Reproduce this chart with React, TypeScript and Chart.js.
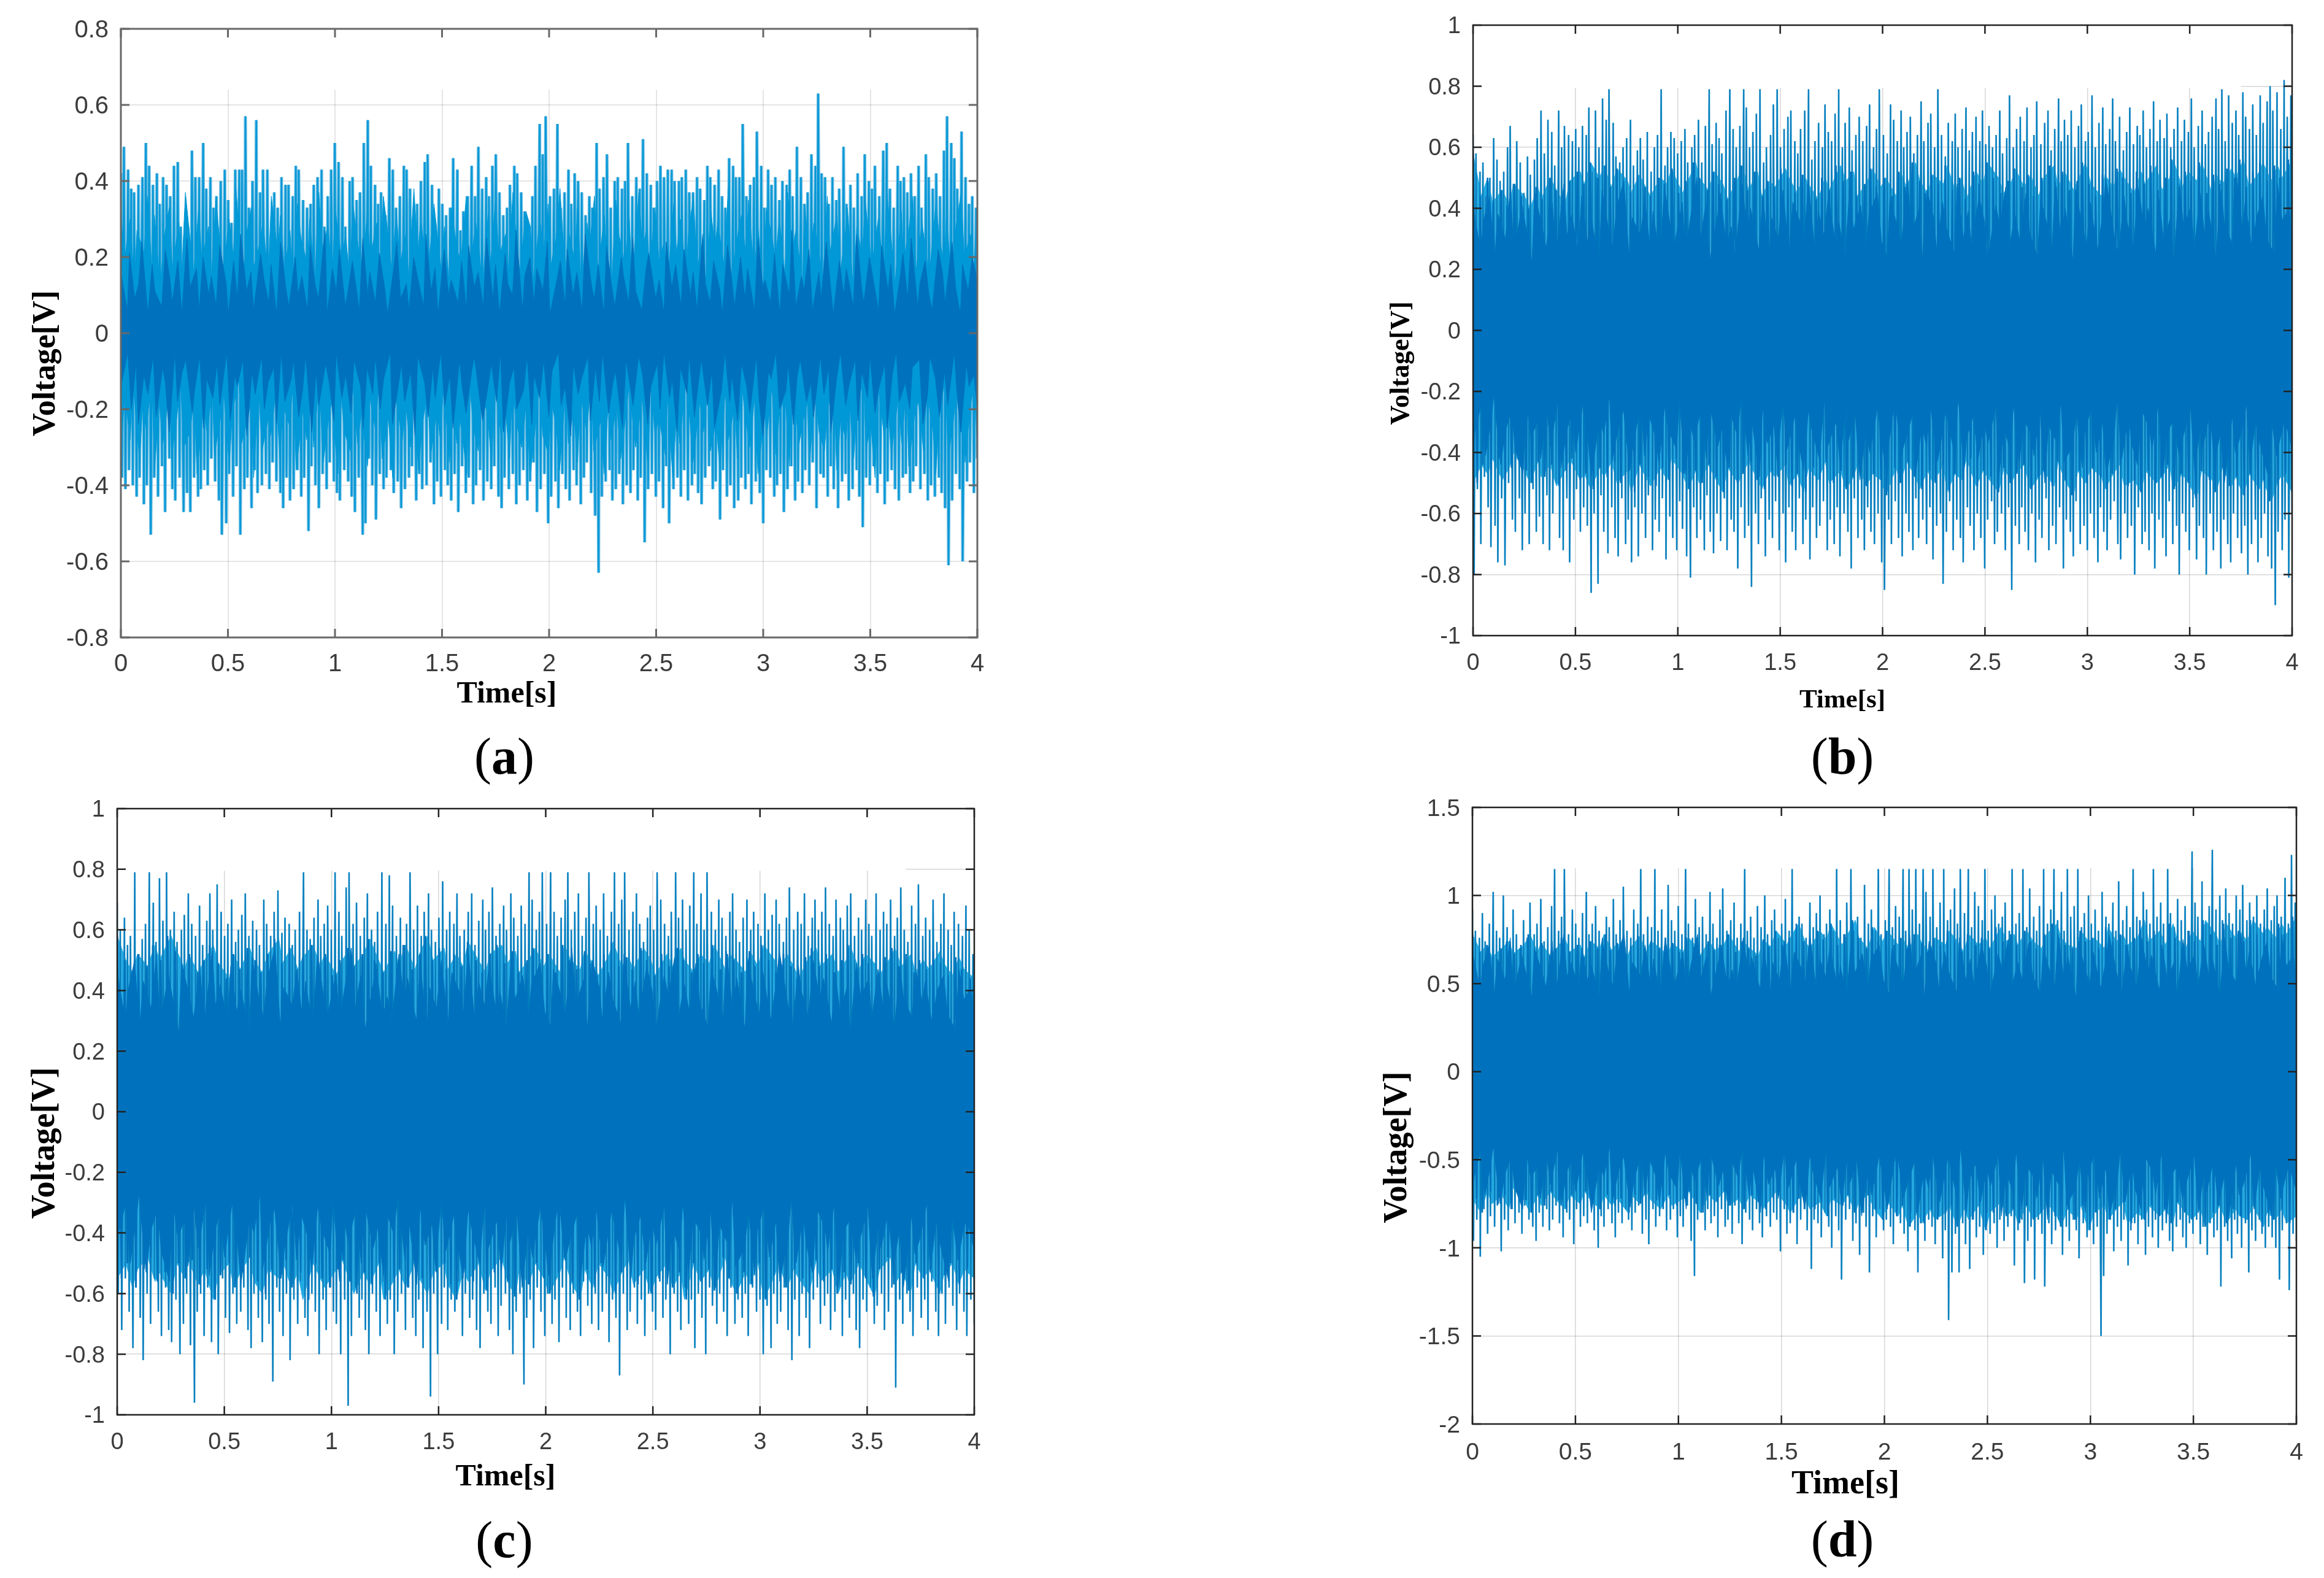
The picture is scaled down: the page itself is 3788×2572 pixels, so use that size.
import React, { useEffect, useRef } from "react";
import { Chart, registerables } from "chart.js";

Chart.register(...registerables);

const timeTicks = [0, 0.5, 1, 1.5, 2, 2.5, 3, 3.5, 4];
// Irregular gaps between successive extrema of the noisy trace
const gaps = [1.3,.6,1.1,.8,1.5,.5,1.2,.9,.7,1.4,1,.6,1.6,.8,1.1,.5,1.3,.9,1.2,.7,1.5,.6,.9];

// Panel (a)
const aTop = [.42,.49,.43,.38,.37,.39,.41,.50,.44,.39,.42,.34,.41,.39,.36,.44,.45,.28,.25,.28,
.48,.41,.41,.50,.38,.41,.33,.36,.40,.43,.35,.29,.43,.43,.43,.57,.33,.40,.56,.37,
.43,.43,.23,.37,.33,.41,.39,.39,.36,.44,.43,.35,.33,.34,.39,.41,.43,.28,.36,.43,
.50,.45,.41,.28,.40,.41,.35,.37,.50,.56,.44,.39,.34,.37,.31,.46,.43,.33,.36,.44,
.43,.38,.30,.34,.40,.45,.47,.39,.29,.38,.34,.31,.33,.46,.43,.27,.32,.36,.44,.36,
.49,.38,.41,.36,.44,.47,.37,.31,.33,.39,.44,.42,.37,.32,.27,.36,.44,.55,.47,.57,
.36,.38,.55,.33,.37,.43,.34,.42,.40,.37,.31,.36,.33,.50,.38,.41,.47,.33,.40,.41,
.38,.40,.50,.36,.41,.38,.51,.42,.39,.33,.40,.44,.41,.43,.43,.40,.40,.41,.43,.37,
.37,.41,.38,.35,.44,.41,.39,.43,.36,.33,.46,.44,.41,.41,.55,.36,.39,.41,.53,.44,
.33,.43,.39,.41,.35,.40,.39,.43,.36,.49,.41,.34,.37,.47,.44,.63,.42,.41,.34,.41,
.35,.38,.49,.34,.39,.33,.42,.36,.47,.40,.38,.44,.36,.48,.50,.38,.33,.44,.40,.41,
.37,.42,.36,.44,.33,.47,.41,.38,.42,.36,.48,.57,.50,.46,.38,.53,.41,.34,.36,.33];
const aBot = [-.38,-.41,-.36,-.40,-.43,-.38,-.45,-.40,-.53,-.38,-.43,-.35,-.47,-.33,-.41,-.44,-.38,-.47,-.42,-.47,
-.38,-.43,-.41,-.36,-.40,-.33,-.39,-.44,-.53,-.50,-.37,-.43,-.35,-.53,-.41,-.38,-.46,-.36,-.42,-.40,
-.37,-.41,-.34,-.39,-.42,-.46,-.38,-.44,-.41,-.36,-.43,-.38,-.52,-.35,-.40,-.46,-.37,-.41,-.34,-.39,
-.42,-.44,-.36,-.39,-.43,-.47,-.38,-.53,-.50,-.33,-.40,-.49,-.37,-.41,-.38,-.36,-.42,-.39,-.46,-.41,
-.38,-.35,-.44,-.37,-.41,-.40,-.34,-.45,-.39,-.43,-.36,-.40,-.44,-.37,-.47,-.35,-.42,-.38,-.45,-.40,
-.36,-.44,-.39,-.41,-.35,-.43,-.46,-.38,-.41,-.37,-.45,-.40,-.36,-.44,-.39,-.34,-.47,-.41,-.37,-.50,
-.43,-.39,-.46,-.37,-.41,-.44,-.36,-.40,-.45,-.38,-.34,-.42,-.48,-.63,-.43,-.39,-.36,-.44,-.41,-.37,
-.45,-.40,-.42,-.36,-.44,-.38,-.55,-.41,-.37,-.43,-.39,-.46,-.35,-.50,-.41,-.38,-.43,-.36,-.44,-.40,
-.37,-.42,-.45,-.38,-.35,-.41,-.39,-.49,-.36,-.43,-.40,-.46,-.44,-.38,-.41,-.37,-.45,-.39,-.42,-.50,
-.36,-.38,-.43,-.40,-.37,-.47,-.41,-.35,-.44,-.39,-.42,-.36,-.40,-.34,-.46,-.37,-.38,-.43,-.35,-.41,
-.46,-.39,-.37,-.44,-.41,-.36,-.43,-.51,-.38,-.40,-.35,-.42,-.37,-.45,-.39,-.36,-.41,-.44,-.38,-.37,
-.42,-.39,-.35,-.41,-.37,-.44,-.40,-.43,-.38,-.42,-.46,-.61,-.44,-.37,-.41,-.60,-.39,-.34,-.42,-.33];
const aMidTop = [.34,.18,.30,.13,.27,.21,.36,.15,.31,.12,.25,.33,.17,.29,.14,.37,.22,.16,.32,.19,.28,.12,.35,.24,.15,.30,.20,.38,.13,.26,.33,.17,.23,.29,.14,.36,.21,.31,.16,.27,
.12,.34,.25,.18,.30,.14,.37,.22,.28,.15,.33,.19,.26,.13,.35,.23,.17,.31,.20,.29,.12,.36,.24,.16,.32,.18,.27,.14,.38,.21,.30,.15,.25,.34,.17,.28,.13,.33,.22,.19,
.36,.15,.29,.24,.12,.31,.18,.35,.20,.26,.14,.37,.23,.16,.32,.28,.13,.30,.21,.34,.17,.25,.38,.15,.27,.19,.33,.12,.29,.23,.36,.16,.31,.20,.14,.35,.26,.18,.30,.13,
.37,.22,.28,.16,.33,.19,.24,.12,.34,.21,.30,.15,.27,.36,.17,.25,.13,.32,.23,.29,.18,.38,.14,.26,.31,.20,.35,.16,.28,.12,.33,.24,.19,.30,.15,.37,.22,.27,.13,.34,
.18,.29,.25,.14,.36,.21,.31,.16,.26,.33,.12,.28,.20,.35,.17,.23,.30,.15,.38,.24,.13,.32,.19,.27,.36,.16,.29,.21,.14,.34,.25,.18,.31,.12,.28,.37,.20,.26,.15,.33];
const aMidBot = [-.31,-.16,-.28,-.13,-.34,-.20,-.25,-.12,-.36,-.18,-.29,-.15,-.33,-.22,-.14,-.30,-.26,-.17,-.37,-.19,-.27,-.13,-.32,-.23,-.16,-.35,-.21,-.12,-.29,-.25,-.18,-.38,-.14,-.31,-.22,-.27,-.15,-.33,-.19,-.24,
-.13,-.36,-.20,-.28,-.16,-.30,-.12,-.34,-.23,-.18,-.37,-.15,-.26,-.31,-.14,-.29,-.21,-.35,-.17,-.25,-.13,-.33,-.22,-.38,-.16,-.28,-.19,-.30,-.12,-.36,-.24,-.15,-.32,-.20,-.27,-.14,-.34,-.18,-.29,-.23,
-.37,-.13,-.26,-.31,-.16,-.21,-.35,-.12,-.28,-.19,-.33,-.15,-.25,-.30,-.17,-.38,-.22,-.14,-.27,-.32,-.18,-.24,-.36,-.13,-.29,-.20,-.34,-.16,-.26,-.12,-.31,-.23,-.37,-.15,-.28,-.19,-.33,-.21,-.14,-.30,
-.25,-.17,-.35,-.13,-.27,-.22,-.32,-.16,-.38,-.20,-.29,-.12,-.24,-.34,-.18,-.26,-.14,-.31,-.23,-.36,-.15,-.28,-.19,-.33,-.13,-.25,-.30,-.17,-.37,-.21,-.27,-.14,-.32,-.22,-.16,-.35,-.12,-.29,-.24,-.18,
-.34,-.15,-.26,-.31,-.20,-.13,-.36,-.23,-.28,-.16,-.33,-.19,-.12,-.30,-.25,-.38,-.14,-.27,-.21,-.32,-.17,-.29,-.13,-.35,-.22,-.18,-.31,-.15,-.26,-.37,-.20,-.12,-.33,-.24,-.16,-.28,-.34,-.19,-.14,-.30];
const aCoreTop = [.16,.06,.21,.09,.13,.24,.05,.18,.11,.07,.22,.14,.08,.19,.05,.25,.12,.17,.06,.20,.10,.15,.07,.23,.13,.05,.19,.09,.26,.11,.16,.06,.21,.14,.08,.18,.05,.24,.12,.07,
.20,.10,.15,.06,.23,.13,.09,.27,.05,.17,.11,.22,.07,.14,.19,.06,.25,.10,.16,.08,.21,.12,.05,.18,.24,.09,.13,.06,.20,.15,.07,.26,.11,.17,.05,.22,.10,.14,.08,.19,
.06,.23,.12,.16,.07,.25,.09,.18,.05,.21,.13,.10,.27,.06,.15,.20,.08,.17,.11,.24,.05,.14,.19,.07,.22,.10,.16,.06,.26,.12,.09,.18,.05,.23,.13,.07,.20,.15,.08,.25,
.11,.06,.17,.21,.09,.14,.05,.24,.12,.18,.07,.22,.10,.16,.06,.26,.13,.08,.19,.11,.05,.23,.15,.07,.20,.09,.17,.06,.25,.12,.14,.08,.21,.05,.18,.10,.27,.07,.15,.11,
.22,.06,.16,.09,.24,.13,.05,.19,.10,.17,.07,.26,.12,.08,.20,.14,.06,.23,.11,.18,.05,.15,.21,.09,.25,.07,.13,.19,.10,.06,.22,.16,.08,.24,.12,.05,.18,.11,.20,.14];
const aCoreBot = [-.14,-.05,-.20,-.08,-.24,-.11,-.16,-.06,-.22,-.09,-.13,-.26,-.05,-.18,-.10,-.07,-.21,-.15,-.06,-.25,-.12,-.17,-.08,-.19,-.05,-.23,-.11,-.14,-.07,-.27,-.10,-.16,-.06,-.20,-.13,-.09,-.24,-.05,-.18,-.12,
-.07,-.22,-.15,-.06,-.26,-.10,-.19,-.08,-.13,-.23,-.05,-.17,-.11,-.21,-.07,-.14,-.25,-.09,-.16,-.06,-.20,-.12,-.05,-.24,-.15,-.08,-.18,-.10,-.27,-.06,-.13,-.22,-.09,-.17,-.05,-.19,-.11,-.25,-.07,-.14,
-.21,-.10,-.06,-.16,-.23,-.12,-.08,-.18,-.05,-.26,-.13,-.09,-.20,-.15,-.06,-.24,-.11,-.17,-.07,-.22,-.10,-.05,-.19,-.14,-.27,-.08,-.16,-.12,-.06,-.23,-.09,-.18,-.05,-.21,-.13,-.10,-.25,-.07,-.15,-.19,
-.06,-.11,-.24,-.14,-.08,-.20,-.05,-.17,-.12,-.26,-.09,-.16,-.06,-.22,-.13,-.07,-.19,-.10,-.25,-.15,-.05,-.18,-.11,-.23,-.08,-.14,-.21,-.06,-.17,-.27,-.10,-.12,-.05,-.20,-.15,-.08,-.24,-.11,-.07,-.18,
-.13,-.22,-.06,-.16,-.09,-.26,-.12,-.05,-.19,-.14,-.07,-.23,-.10,-.17,-.06,-.21,-.15,-.08,-.25,-.11,-.05,-.18,-.13,-.20,-.09,-.07,-.24,-.16,-.06,-.12,-.22,-.10,-.19,-.05,-.15,-.26,-.08,-.14,-.11,-.20];

// Panel (b)
const bTop = [.64,.58,.52,.55,.44,.50,.63,.56,.49,.52,.60,.67,.48,.62,.55,.45,.57,.51,.56,.63,
.72,.58,.69,.65,.54,.72,.60,.67,.64,.62,.66,.60,.67,.64,.73,.52,.72,.60,.76,.69,
.79,.68,.57,.55,.60,.63,.69,.54,.59,.63,.56,.65,.52,.60,.64,.79,.54,.60,.65,.63,
.58,.62,.66,.55,.60,.64,.69,.55,.67,.79,.61,.68,.63,.58,.72,.79,.66,.60,.67,.79,
.73,.60,.65,.71,.79,.55,.60,.64,.74,.79,.60,.66,.70,.72,.62,.58,.66,.72,.79,.56,
.62,.68,.60,.74,.65,.62,.71,.79,.60,.68,.73,.59,.64,.70,.62,.67,.74,.60,.66,.79,
.64,.58,.74,.69,.62,.72,.60,.65,.70,.58,.64,.75,.62,.68,.71,.60,.79,.64,.57,.68,
.62,.71,.60,.66,.73,.59,.65,.70,.62,.72,.61,.67,.60,.64,.72,.58,.63,.77,.60,.66,
.70,.62,.73,.60,.64,.75,.61,.68,.72,.59,.66,.76,.62,.69,.64,.72,.60,.67,.74,.62,
.65,.77,.60,.68,.73,.61,.66,.76,.62,.70,.59,.65,.73,.61,.67,.64,.72,.60,.66,.75,
.62,.69,.63,.71,.60,.66,.73,.62,.69,.65,.76,.60,.67,.72,.61,.65,.70,.76,.66,.79,
.62,.77,.68,.72,.64,.78,.70,.66,.74,.64,.77,.68,.75,.80,.72,.78,.66,.82,.70,.77];
const bBot = [-.80,-.52,-.70,-.48,-.58,-.71,-.64,-.76,-.55,-.77,-.50,-.62,-.66,-.55,-.72,-.60,-.70,-.52,-.66,-.61,
-.70,-.54,-.72,-.60,-.50,-.68,-.72,-.55,-.76,-.62,-.52,-.66,-.58,-.64,-.86,-.60,-.83,-.54,-.66,-.73,
-.58,-.68,-.74,-.55,-.70,-.62,-.76,-.58,-.74,-.60,-.68,-.54,-.72,-.62,-.66,-.55,-.75,-.61,-.68,-.72,
-.56,-.65,-.74,-.81,-.58,-.68,-.62,-.72,-.54,-.66,-.73,-.60,-.69,-.55,-.72,-.62,-.66,-.78,-.58,-.68,
-.64,-.84,-.60,-.70,-.55,-.74,-.62,-.68,-.56,-.72,-.60,-.76,-.58,-.66,-.72,-.55,-.70,-.62,-.75,-.58,
-.68,-.64,-.56,-.72,-.62,-.70,-.58,-.74,-.60,-.66,-.78,-.55,-.68,-.62,-.72,-.58,-.66,-.70,-.60,-.76,
-.85,-.62,-.70,-.56,-.68,-.74,-.60,-.66,-.72,-.55,-.68,-.62,-.70,-.58,-.75,-.64,-.60,-.83,-.66,-.56,
-.72,-.62,-.68,-.76,-.58,-.64,-.72,-.60,-.68,-.78,-.62,-.56,-.70,-.66,-.60,-.72,-.58,-.85,-.64,-.70,
-.58,-.66,-.72,-.60,-.76,-.62,-.68,-.55,-.72,-.64,-.70,-.58,-.78,-.62,-.66,-.74,-.56,-.70,-.64,-.72,
-.60,-.68,-.76,-.58,-.66,-.72,-.62,-.56,-.70,-.75,-.60,-.68,-.64,-.80,-.58,-.70,-.66,-.72,-.60,-.78,
-.62,-.68,-.74,-.56,-.70,-.64,-.80,-.60,-.66,-.72,-.58,-.75,-.64,-.68,-.80,-.60,-.72,-.66,-.78,-.62,
-.70,-.76,-.60,-.68,-.73,-.64,-.80,-.70,-.62,-.76,-.68,-.60,-.74,-.78,-.90,-.66,-.72,-.62,-.81,-.60];
const bMidTop = [.58,.44,.50,.42,.46,.41,.48,.44,.40,.47,.43,.50,.46,.41,.49,.52,.48,.55,.50,.54,
.47,.53,.49,.45,.51,.47,.44,.50,.48,.53,.45,.49,.55,.50,.46,.52,.48,.43,.50,.54,
.46,.52,.44,.49,.47,.53,.50,.45,.51,.48,.43,.50,.46,.54,.49,.52,.44,.48,.53,.47,
.50,.44,.52,.47,.55,.49,.45,.51,.48,.54,.46,.50,.43,.52,.48,.55,.50,.45,.49,.53,
.47,.51,.44,.50,.54,.47,.52,.46,.49,.55,.48,.44,.51,.47,.53,.50,.45,.52,.48,.54,
.46,.50,.56,.47,.52,.49,.55,.45,.51,.48,.53,.50,.56,.47,.52,.55,.49,.54,.50,.56];
const bMidBot = [-.50,-.44,-.47,-.42,-.49,-.45,-.40,-.46,-.50,-.43,-.48,-.44,-.51,-.46,-.42,-.49,-.47,-.52,-.45,-.48,
-.43,-.50,-.46,-.53,-.44,-.48,-.51,-.45,-.49,-.42,-.47,-.52,-.46,-.50,-.44,-.48,-.53,-.45,-.50,-.47,
-.43,-.49,-.52,-.46,-.48,-.44,-.51,-.47,-.53,-.45,-.49,-.43,-.50,-.46,-.52,-.48,-.44,-.51,-.47,-.49,
-.54,-.45,-.50,-.43,-.48,-.52,-.46,-.50,-.44,-.53,-.47,-.49,-.42,-.51,-.46,-.48,-.53,-.45,-.50,-.47,
-.44,-.52,-.48,-.46,-.51,-.43,-.49,-.54,-.46,-.50,-.45,-.48,-.52,-.47,-.44,-.51,-.49,-.53,-.46,-.50,
-.48,-.44,-.52,-.47,-.50,-.55,-.46,-.49,-.53,-.45,-.51,-.48,-.54,-.47,-.52,-.49,-.56,-.50,-.47,-.53];
const bCoreTop = [.40,.26,.36,.44,.23,.38,.30,.47,.25,.41,.33,.22,.45,.35,.27,.42,.24,.48,.31,.38,.25,.44,.29,.36,.22,.46,.34,.27,.40,.49,.24,.37,.31,.43,.26,.39,.23,.47,.33,.28,
.42,.25,.36,.50,.29,.41,.23,.38,.45,.27,.34,.24,.48,.32,.40,.26,.44,.22,.37,.30,.46,.25,.42,.35,.28,.49,.24,.39,.31,.44,.27,.36,.23,.47,.33,.41,.26,.38,.45,.29,
.24,.43,.35,.28,.50,.31,.40,.23,.46,.37,.26,.42,.33,.25,.48,.30,.39,.27,.44,.36,.22,.41,.34,.47,.25,.38,.29,.45,.32,.24,.43,.37,.27,.49,.30,.40,.23,.46,.35,.28,
.42,.26,.38,.50,.31,.24,.44,.36,.27,.47,.33,.40,.25,.43,.29,.37,.22,.48,.34,.41,.26,.45,.30,.39,.24,.46,.35,.28,.50,.33,.42,.27,.37,.44,.30,.25,.48,.36,.40,.31];
const bCoreBot = [-.36,-.24,-.41,-.29,-.21,-.44,-.33,-.26,-.39,-.47,-.23,-.35,-.30,-.42,-.25,-.38,-.22,-.45,-.32,-.27,-.40,-.24,-.36,-.48,-.29,-.34,-.21,-.43,-.31,-.26,-.46,-.37,-.23,-.41,-.28,-.35,-.44,-.25,-.33,-.39,
-.22,-.47,-.30,-.36,-.26,-.42,-.24,-.38,-.32,-.45,-.27,-.34,-.21,-.41,-.29,-.48,-.25,-.37,-.31,-.43,-.23,-.39,-.28,-.35,-.46,-.26,-.33,-.42,-.22,-.38,-.30,-.44,-.24,-.36,-.27,-.49,-.32,-.40,-.25,-.34,
-.45,-.29,-.23,-.41,-.36,-.27,-.47,-.31,-.38,-.24,-.43,-.33,-.26,-.40,-.22,-.46,-.35,-.28,-.42,-.30,-.37,-.25,-.48,-.32,-.39,-.24,-.44,-.29,-.34,-.41,-.26,-.50,-.31,-.36,-.23,-.43,-.38,-.27,-.45,-.33,
-.25,-.40,-.30,-.47,-.35,-.22,-.42,-.28,-.37,-.44,-.26,-.32,-.39,-.24,-.48,-.34,-.29,-.41,-.36,-.25,-.46,-.31,-.38,-.27,-.43,-.33,-.50,-.28,-.40,-.35,-.24,-.44,-.30,-.37,-.47,-.26,-.41,-.34,-.29,-.39];

// Panel (c)
const cTop = [.69,.60,.64,.55,.58,.79,.52,.57,.62,.79,.69,.56,.77,.63,.79,.60,.66,.56,.60,.65,
.72,.62,.58,.68,.55,.63,.72,.60,.75,.66,.58,.62,.70,.56,.60,.65,.72,.58,.63,.60,
.55,.70,.62,.58,.66,.73,.59,.64,.62,.55,.60,.66,.79,.60,.57,.64,.70,.58,.62,.68,
.60,.79,.66,.58,.74,.79,.62,.69,.58,.64,.72,.60,.56,.66,.79,.62,.78,.68,.58,.64,
.55,.62,.79,.60,.68,.58,.66,.72,.60,.56,.64,.76,.60,.66,.62,.72,.58,.60,.66,.72,
.55,.63,.70,.60,.66,.74,.58,.62,.68,.60,.72,.64,.58,.68,.62,.79,.70,.60,.66,.79,
.62,.79,.66,.58,.64,.70,.79,.60,.66,.72,.58,.64,.79,.62,.68,.60,.72,.58,.66,.79,
.62,.70,.79,.60,.66,.72,.62,.56,.64,.68,.60,.79,.70,.62,.58,.66,.79,.64,.70,.60,
.68,.79,.62,.72,.60,.79,.66,.60,.70,.64,.58,.66,.72,.60,.56,.64,.70,.60,.66,.62,
.58,.72,.60,.65,.70,.62,.56,.64,.74,.60,.66,.62,.72,.58,.64,.70,.60,.66,.74,.62,
.58,.70,.64,.60,.68,.72,.58,.64,.60,.70,.62,.58,.72,.60,.66,.62,.70,.58,.64,.74,
.60,.56,.68,.62,.75,.58,.64,.60,.70,.56,.62,.72,.60,.55,.66,.62,.58,.68,.60,.52];
const cBot = [-.60,-.72,-.55,-.66,-.78,-.58,-.68,-.82,-.60,-.70,-.55,-.66,-.74,-.58,-.72,-.76,-.62,-.80,-.70,-.60,
-.77,-.96,-.66,-.60,-.74,-.58,-.76,-.62,-.80,-.55,-.68,-.73,-.60,-.70,-.66,-.58,-.72,-.78,-.60,-.68,
-.76,-.62,-.70,-.89,-.58,-.66,-.74,-.60,-.82,-.62,-.70,-.56,-.68,-.74,-.60,-.66,-.80,-.62,-.72,-.58,
-.66,-.70,-.80,-.62,-.97,-.74,-.58,-.68,-.62,-.72,-.80,-.60,-.66,-.74,-.56,-.70,-.62,-.80,-.66,-.60,
-.72,-.58,-.68,-.74,-.62,-.78,-.66,-.94,-.60,-.80,-.70,-.58,-.72,-.62,-.66,-.56,-.74,-.60,-.68,-.62,
-.72,-.78,-.60,-.66,-.70,-.58,-.74,-.64,-.60,-.72,-.80,-.66,-.60,-.90,-.68,-.62,-.78,-.58,-.66,-.74,
-.60,-.70,-.62,-.76,-.58,-.68,-.72,-.60,-.66,-.74,-.56,-.64,-.70,-.60,-.72,-.66,-.60,-.76,-.62,-.68,
-.87,-.60,-.72,-.66,-.58,-.70,-.62,-.74,-.60,-.66,-.72,-.56,-.68,-.62,-.80,-.60,-.66,-.72,-.58,-.70,
-.62,-.78,-.60,-.68,-.80,-.58,-.64,-.70,-.60,-.66,-.74,-.58,-.70,-.62,-.68,-.60,-.74,-.58,-.66,-.62,
-.80,-.64,-.78,-.60,-.70,-.66,-.58,-.72,-.82,-.62,-.74,-.60,-.68,-.78,-.62,-.58,-.70,-.64,-.60,-.72,
-.66,-.58,-.74,-.62,-.68,-.60,-.72,-.78,-.62,-.66,-.58,-.70,-.64,-.60,-.72,-.66,-.58,-.91,-.62,-.70,
-.60,-.66,-.74,-.58,-.68,-.62,-.72,-.56,-.66,-.74,-.60,-.70,-.58,-.64,-.72,-.60,-.66,-.74,-.62,-.70];
const cMidTop = [.58,.50,.46,.52,.48,.55,.50,.58,.53,.47,.52,.46,.50,.55,.49,.44,.52,.47,.54,.50,
.46,.52,.57,.49,.54,.47,.51,.55,.48,.52,.45,.50,.54,.48,.52,.57,.50,.46,.53,.49,
.55,.47,.52,.58,.50,.54,.47,.52,.48,.56,.50,.46,.52,.55,.49,.53,.46,.50,.54,.48,
.52,.46,.55,.50,.47,.53,.49,.45,.52,.56,.48,.51,.47,.54,.50,.45,.52,.48,.54,.50,
.46,.52,.49,.55,.47,.52,.50,.46,.53,.48,.55,.50,.46,.52,.48,.44,.51,.54,.48,.52,
.46,.50,.55,.47,.52,.49,.45,.51,.54,.48,.52,.46,.50,.47,.53,.49,.45,.51,.47,.44];
const cMidBot = [-.55,-.50,-.58,-.52,-.48,-.56,-.53,-.60,-.50,-.55,-.49,-.57,-.52,-.62,-.54,-.50,-.58,-.53,-.48,-.56,
-.60,-.52,-.55,-.49,-.58,-.53,-.62,-.50,-.55,-.58,-.52,-.49,-.56,-.60,-.53,-.57,-.50,-.62,-.55,-.52,
-.58,-.49,-.55,-.60,-.53,-.50,-.57,-.62,-.52,-.56,-.50,-.59,-.53,-.48,-.56,-.61,-.52,-.57,-.50,-.55,
-.60,-.53,-.48,-.56,-.62,-.52,-.58,-.50,-.55,-.60,-.53,-.49,-.57,-.52,-.60,-.55,-.50,-.58,-.53,-.62,
-.50,-.56,-.52,-.59,-.48,-.55,-.60,-.53,-.57,-.50,-.62,-.54,-.50,-.58,-.52,-.55,-.60,-.49,-.56,-.52,
-.60,-.53,-.57,-.50,-.55,-.61,-.52,-.48,-.57,-.53,-.59,-.50,-.55,-.52,-.60,-.54,-.50,-.57,-.52,-.55];
const cCoreTop = [.46,.30,.40,.50,.27,.43,.34,.52,.29,.45,.37,.26,.49,.39,.31,.47,.28,.53,.35,.42,.29,.48,.33,.40,.26,.51,.38,.31,.44,.54,.28,.41,.35,.47,.30,.43,.27,.52,.37,.32,
.46,.29,.40,.54,.33,.45,.27,.42,.49,.31,.38,.28,.52,.36,.44,.30,.48,.26,.41,.34,.50,.29,.46,.39,.32,.53,.28,.43,.35,.48,.31,.40,.27,.51,.37,.45,.30,.42,.49,.33,
.28,.47,.39,.32,.54,.35,.44,.27,.50,.41,.30,.46,.37,.29,.52,.34,.43,.31,.48,.40,.26,.45,.38,.51,.29,.42,.33,.49,.36,.28,.47,.41,.31,.53,.34,.44,.27,.50,.39,.32,
.46,.30,.42,.53,.35,.28,.48,.40,.31,.50,.37,.44,.29,.46,.33,.41,.26,.49,.38,.44,.30,.47,.34,.42,.28,.48,.38,.31,.46,.36,.43,.29,.40,.45,.32,.27,.47,.37,.41,.30];
const cCoreBot = [-.42,-.30,-.50,-.35,-.27,-.53,-.39,-.32,-.46,-.56,-.29,-.41,-.36,-.51,-.31,-.45,-.28,-.54,-.38,-.33,-.48,-.30,-.43,-.57,-.35,-.40,-.27,-.52,-.37,-.32,-.55,-.44,-.29,-.49,-.34,-.42,-.53,-.31,-.39,-.47,
-.28,-.56,-.36,-.43,-.32,-.50,-.30,-.45,-.38,-.54,-.33,-.40,-.27,-.49,-.35,-.57,-.31,-.44,-.37,-.51,-.29,-.46,-.34,-.41,-.55,-.32,-.39,-.50,-.28,-.45,-.36,-.53,-.30,-.43,-.33,-.58,-.38,-.48,-.31,-.40,
-.54,-.35,-.29,-.49,-.43,-.33,-.56,-.37,-.45,-.30,-.51,-.39,-.32,-.48,-.28,-.55,-.42,-.34,-.50,-.36,-.44,-.31,-.57,-.38,-.46,-.30,-.53,-.35,-.40,-.49,-.32,-.58,-.37,-.43,-.29,-.51,-.45,-.33,-.54,-.39,
-.31,-.48,-.36,-.56,-.42,-.28,-.50,-.34,-.44,-.53,-.32,-.38,-.46,-.30,-.57,-.40,-.35,-.49,-.43,-.31,-.55,-.37,-.45,-.33,-.51,-.39,-.58,-.34,-.47,-.42,-.30,-.53,-.36,-.44,-.56,-.32,-.49,-.40,-.35,-.46];

// Panel (d)
const dTop = [.92,.80,.76,.90,.74,.84,1.02,.80,.76,1.00,.82,.74,.92,.78,.70,.86,.76,.96,.78,.84,
.98,.74,.82,.94,1.15,.80,.88,1.15,.78,.92,.84,.76,.90,1.02,.78,.84,.94,.80,.76,.88,
.82,.98,.78,.86,1.05,.80,.76,.92,.84,1.15,.78,.88,.82,1.15,.80,.92,.76,1.06,.86,.80,
.94,.78,1.15,.84,.76,.98,.82,.88,.78,1.02,.84,.76,.92,1.04,.80,.86,.96,.76,.84,1.15,
.80,.88,.76,.94,.82,1.00,.78,.86,.92,.76,.84,.98,.80,1.15,.78,.88,.84,.76,.96,.82,
.90,1.00,.78,.84,.92,.80,1.15,.86,.78,.96,1.15,.80,.88,.76,1.06,.84,.92,.80,1.15,.78,
.86,1.15,.82,.94,.88,1.15,.80,1.15,.92,1.15,.84,1.15,1.02,.88,1.15,.82,.96,1.15,.86,.92,
1.04,.84,1.15,.90,1.15,.82,1.02,.94,.86,1.15,.80,.92,1.00,.84,.88,.96,.80,1.15,.84,.90,
1.15,.82,1.04,.88,.80,.94,1.15,.84,.92,1.15,.86,1.02,.80,1.15,.88,.94,1.15,.82,.90,1.00,
.84,.92,.80,1.02,.88,.84,.96,.80,1.08,.86,.94,.82,1.15,.88,.80,1.02,.92,.84,1.15,.88,
.96,.84,1.15,.90,.82,.98,.86,.94,.80,1.25,.96,.88,1.08,.84,.94,1.26,.92,1.00,.86,1.04,
.90,.84,1.00,.92,1.06,.86,.96,.88,1.00,.84,.92,1.04,.86,.94,1.00,.88,1.10,.84,1.23,.96];
const dBot = [-.96,-.84,-1.05,-.78,-.92,-.82,-.88,-.76,-1.02,-.84,-.90,-.78,-.86,-.80,-.92,-.76,-.84,-.88,-.96,-.80,
-.88,-.78,-.90,-.84,-.76,-.86,-.94,-.80,-.84,-.98,-.78,-.88,-.82,-.86,-.76,-.90,-1.00,-.82,-.88,-.78,
-.86,-.94,-.80,-.86,-.78,-.84,-.90,-.80,-.76,-.92,-.84,-.98,-.78,-.88,-.82,-.76,-.90,-.84,-.78,-.94,
-.82,-.88,-.76,-.96,-1.16,-.84,-.80,-.90,-.78,-.86,-.82,-.94,-.78,-.88,-.84,-.92,-.76,-.86,-.98,-.80,
-.84,-.90,-.78,-.86,-.94,-.82,-.88,-.80,-.84,-1.02,-.78,-.92,-.86,-.80,-.98,-.84,-.78,-.90,-1.12,-.84,
-.86,-.94,-.80,-.88,-1.00,-.82,-.90,-1.18,-.84,-.78,-.96,-.86,-1.04,-.80,-.88,-1.14,-.82,-.94,-.78,-.90,
-.84,-.88,-.98,-.82,-.86,-.92,-1.02,-.80,-.90,-1.14,-.86,-.96,-.84,-.88,-.98,-.82,-1.06,-.90,-1.41,-1.14,
-.92,-1.14,-.86,-.98,-1.12,-.84,-.94,-.88,-1.04,-.80,-.92,-.86,-1.00,-.84,-.96,-.88,-.82,-1.10,-.90,-.84,
-1.20,-.96,-.88,-1.18,-.84,-.92,-1.22,-.86,-.98,-.90,-.84,-1.04,-.88,-.96,-.84,-.90,-1.06,-.86,-.94,-.82,
-.98,-.88,-1.50,-1.16,-.92,-.84,-1.02,-.88,-.96,-.84,-1.10,-.90,-.86,-.98,-.84,-1.04,-.88,-.94,-.84,-1.00,
-.90,-.86,-.96,-1.02,-.88,-.84,-.94,-1.00,-.86,-.92,-.84,-.98,-.88,-1.04,-.86,-.94,-.90,-1.22,-.88,-.96,
-1.06,-.84,-.92,-1.00,-.86,-1.14,-.90,-.96,-.84,-.92,-1.00,-.88,-.94,-1.00,-1.18,-.90,-.86,-1.24,-.92,-.96];
const dMidTop = [.78,.68,.72,.65,.70,.74,.67,.72,.78,.68,.73,.66,.70,.76,.68,.72,.65,.74,.70,.78,
.69,.73,.66,.71,.77,.68,.74,.70,.66,.73,.68,.76,.71,.66,.74,.69,.72,.78,.68,.74,
.70,.66,.75,.71,.80,.72,.76,.84,.74,.70,.80,.75,.84,.72,.78,.86,.76,.70,.82,.74,
.80,.72,.76,.70,.78,.73,.68,.76,.72,.80,.74,.68,.78,.72,.76,.70,.82,.74,.78,.72,
.80,.74,.70,.78,.84,.76,.72,.70,.80,.74,.76,.70,.82,.74,.78,.72,.76,.86,.74,.80,
.72,.84,.76,.70,.80,.74,.86,.78,.72,.84,.76,.80,.74,.86,.78,.82,.76,.84,.78,.88];
const dMidBot = [-.72,-.80,-.68,-.75,-.70,-.78,-.66,-.73,-.80,-.70,-.76,-.68,-.73,-.78,-.70,-.75,-.68,-.73,-.78,-.70,
-.76,-.72,-.80,-.70,-.75,-.68,-.73,-.78,-.70,-.76,-.72,-.68,-.75,-.80,-.70,-.74,-.68,-.76,-.72,-.78,
-.70,-.74,-.78,-.72,-.68,-.76,-.80,-.72,-.70,-.78,-.74,-.82,-.72,-.76,-.70,-.80,-.74,-.70,-.78,-.84,
-.74,-.82,-.76,-.88,-.80,-.86,-.78,-.84,-.80,-.76,-.88,-.78,-.84,-.76,-.90,-.80,-.74,-.82,-.78,-.86,
-.76,-.84,-.80,-.74,-.82,-.88,-.78,-.84,-.76,-.90,-.80,-.76,-.84,-.78,-.74,-.86,-.80,-.84,-.76,-.82,
-.78,-.86,-.74,-.80,-.84,-.78,-.88,-.80,-.76,-.86,-.78,-.82,-.84,-.76,-.88,-.80,-.84,-.78,-.86,-.82];
const dCoreTop = [.68,.46,.60,.72,.42,.64,.52,.76,.44,.66,.56,.42,.70,.58,.48,.74,.44,.78,.54,.62,.46,.70,.52,.60,.42,.75,.57,.48,.66,.78,.44,.62,.54,.72,.47,.64,.42,.76,.56,.50,
.68,.45,.60,.78,.52,.66,.43,.63,.72,.48,.58,.44,.76,.55,.65,.47,.70,.42,.62,.52,.74,.46,.68,.58,.50,.78,.44,.64,.54,.70,.48,.60,.43,.75,.56,.67,.46,.63,.72,.52,
.44,.70,.58,.50,.78,.54,.66,.42,.74,.62,.47,.68,.56,.45,.76,.52,.64,.48,.72,.60,.43,.67,.57,.75,.46,.62,.52,.73,.55,.44,.70,.60,.48,.78,.53,.65,.42,.74,.58,.50,
.68,.47,.63,.78,.54,.44,.72,.60,.48,.76,.56,.66,.46,.70,.52,.62,.42,.75,.58,.67,.47,.72,.54,.64,.44,.76,.60,.50,.78,.56,.68,.48,.62,.74,.54,.46,.78,.60,.66,.52];
const dCoreBot = [-.64,-.44,-.70,-.52,-.42,-.75,-.58,-.48,-.66,-.78,-.44,-.60,-.54,-.72,-.46,-.64,-.42,-.76,-.56,-.50,-.68,-.45,-.62,-.80,-.52,-.60,-.42,-.74,-.55,-.48,-.77,-.63,-.44,-.70,-.50,-.60,-.75,-.46,-.58,-.67,
-.43,-.78,-.54,-.62,-.48,-.71,-.45,-.65,-.56,-.76,-.50,-.60,-.42,-.70,-.53,-.80,-.46,-.64,-.55,-.72,-.44,-.66,-.50,-.60,-.78,-.47,-.58,-.72,-.43,-.66,-.54,-.76,-.46,-.63,-.50,-.82,-.57,-.70,-.47,-.60,
-.78,-.52,-.44,-.72,-.64,-.50,-.80,-.56,-.66,-.46,-.74,-.58,-.48,-.70,-.43,-.80,-.62,-.52,-.74,-.54,-.65,-.47,-.82,-.57,-.68,-.45,-.78,-.53,-.60,-.72,-.48,-.84,-.56,-.64,-.44,-.76,-.66,-.50,-.80,-.58,
-.46,-.72,-.54,-.82,-.62,-.44,-.74,-.52,-.66,-.78,-.48,-.57,-.70,-.45,-.84,-.60,-.53,-.73,-.64,-.47,-.80,-.56,-.68,-.50,-.76,-.58,-.84,-.52,-.70,-.63,-.46,-.78,-.54,-.66,-.82,-.48,-.72,-.60,-.53,-.68];

const PANELS = [
  { key: "a", caption: "a", top: aTop, bot: aBot, midTop: aMidTop, midBot: aMidBot, coreTop: aCoreTop, coreBot: aCoreBot,
    yMin: -0.8, yMax: 0.8, yStep: 0.2, canvas: [0, 0, 1800, 1190], plot: [197, 47, 1593, 1039], font: 40, padX: 20, padY: 20,
    axis: "#686868", axisW: 3, gridC: "rgba(0,0,0,0.10)", gridW: 2, erase: [0.64, 0, 4], midFill: true,
    light: [5, "rgb(100,186,226)"], dark: [2.2, "rgb(0,150,214)"], mid: "rgb(0,152,214)",
    time: [826, 1132, 50], volt: [76, 592, 52], cap: [822, 1233] },
  { key: "b", caption: "b", top: bTop, bot: bBot, midTop: bMidTop, midBot: bMidBot, coreTop: bCoreTop, coreBot: bCoreBot,
    yMin: -1, yMax: 1, yStep: 0.2, canvas: [2100, 0, 1688, 1190], plot: [2401, 41, 3736, 1036], font: 38, padX: 23, padY: 20,
    axis: "#222", axisW: 2.5, gridC: "rgba(0,0,0,0.16)", gridW: 1.5, erase: [0.795, 0.03, 3.75], midFill: false,
    light: [2.8, "rgb(80,165,210)"], dark: [1.8, "rgb(0,125,190)"], mid: "rgb(0,114,189)",
    time: [3003, 1142, 43], volt: [2285, 592, 44], cap: [3003, 1233] },
  { key: "c", caption: "c", top: cTop, bot: cBot, midTop: cMidTop, midBot: cMidBot, coreTop: cCoreTop, coreBot: cCoreBot,
    yMin: -1, yMax: 1, yStep: 0.2, canvas: [0, 1260, 1800, 1190], plot: [191, 1318, 1588, 2306], font: 38, padX: 23, padY: 20,
    axis: "#222", axisW: 2.5, gridC: "rgba(0,0,0,0.16)", gridW: 1.5, erase: [0.795, 0.03, 3.68], midFill: false,
    light: [2.8, "rgb(80,165,210)"], dark: [1.8, "rgb(0,125,190)"], mid: "rgb(0,114,189)",
    time: [824, 2408, 50], volt: [74, 1863, 54], cap: [822, 2510] },
  { key: "d", caption: "d", top: dTop, bot: dBot, midTop: dMidTop, midBot: dMidBot, coreTop: dCoreTop, coreBot: dCoreBot,
    yMin: -2, yMax: 1.5, yStep: 0.5, canvas: [2100, 1260, 1688, 1200], plot: [2400, 1316, 3743, 2321], font: 39, padX: 24, padY: 20,
    axis: "#222", axisW: 2.5, gridC: "rgba(0,0,0,0.16)", gridW: 1.5, erase: [1.155, 0, 3.6], midFill: false,
    light: [2.8, "rgb(80,165,210)"], dark: [1.8, "rgb(0,125,190)"], mid: "rgb(0,114,189)",
    time: [3008, 2420, 54], volt: [2278, 1870, 54], cap: [3003, 2509] },
];

const times = (n: number, phase: number) => {
  const c = [0];
  for (let i = 1; i < n; i++) c.push(c[i - 1] + gaps[(i + phase) % gaps.length]);
  return c.map((v) => (v / c[n - 1]) * 4);
};
const zig = (top: number[], bot: number[], phase: number) => {
  const t = times(top.length * 2, phase);
  const out: { x: number; y: number }[] = [];
  top.forEach((v, i) => {
    out.push({ x: t[2 * i], y: v });
    out.push({ x: t[2 * i + 1], y: bot[i] });
  });
  return out;
};
const band = (arr: number[], phase: number) => {
  const t = times(arr.length, phase);
  return arr.map((v, i) => ({ x: t[i], y: v }));
};

const CORE = "rgb(0,114,189)";
const SLIT = "rgb(30,170,228)";
const TICK = 14;

const panelPlugin = {
  id: "panelPlugin",
  beforeDatasetsDraw(chart: any, _a: any, o: any) {
    const { ctx, chartArea: ca, scales } = chart;
    const [v, t0, t1] = o.erase;
    ctx.save();
    ctx.fillStyle = "#fff";
    const x0 = Math.max(scales.x.getPixelForValue(t0), ca.left + o.axisW);
    const x1 = Math.min(scales.x.getPixelForValue(t1), ca.right - o.axisW);
    ctx.fillRect(x0, ca.top + TICK, x1 - x0, scales.y.getPixelForValue(v) - ca.top - TICK);
    ctx.restore();
  },
  afterDatasetsDraw(chart: any, _a: any, o: any) {
    const { ctx, chartArea: ca, scales } = chart;
    ctx.save();
    ctx.strokeStyle = o.axis;
    ctx.lineWidth = o.axisW;
    ctx.strokeRect(ca.left, ca.top, ca.right - ca.left, ca.bottom - ca.top);
    ctx.beginPath();
    scales.x.ticks.forEach((t: any) => {
      const x = scales.x.getPixelForValue(t.value);
      ctx.moveTo(x, ca.bottom); ctx.lineTo(x, ca.bottom - TICK);
      ctx.moveTo(x, ca.top); ctx.lineTo(x, ca.top + TICK);
    });
    scales.y.ticks.forEach((t: any) => {
      const y = scales.y.getPixelForValue(t.value);
      ctx.moveTo(ca.left, y); ctx.lineTo(ca.left + TICK, y);
      ctx.moveTo(ca.right, y); ctx.lineTo(ca.right - TICK, y);
    });
    ctx.stroke();
    ctx.fillStyle = "#000";
    ctx.textAlign = "center";
    ctx.textBaseline = "middle";
    const [tx, ty, ts] = o.time;
    ctx.font = `bold ${ts}px "Liberation Serif"`;
    ctx.fillText("Time[s]", tx - o.cx, ty - o.cy);
    const [vx, vy, vs] = o.volt;
    ctx.translate(vx - o.cx, vy - o.cy);
    ctx.rotate(-Math.PI / 2);
    ctx.font = `bold ${vs}px "Liberation Serif"`;
    ctx.fillText("Voltage[V]", 0, 0);
    ctx.restore();
  },
};

function Panel({ p }: { p: any }) {
  const ref = useRef<HTMLCanvasElement>(null);
  useEffect(() => {
    const [cx, cy, cw, ch] = p.canvas;
    const [pl, pt, pr, pb] = p.plot;
    const line = (data: any, color: string, w: number) => ({
      data, borderColor: color, borderWidth: w, pointRadius: 0, tension: 0, fill: false, borderJoinStyle: "bevel",
    });
    const fillTop = (data: any, color: string) => ({
      data, borderColor: color, backgroundColor: color, borderWidth: 1, pointRadius: 0, tension: 0, fill: "+1", borderJoinStyle: "bevel",
    });
    const coreDs = [fillTop(band(p.coreTop, 3), CORE), line(band(p.coreBot, 11), CORE, 1)];
    const midDs = p.midFill
      ? [fillTop(band(p.midTop, 7), p.mid), line(band(p.midBot, 16), p.mid, 1)]
      : [line(zig(p.midTop, p.midBot, 5), p.mid, 2.6)];
    const back = p.midFill ? [] : [fillTop(band(p.midTop, 5), SLIT), line(band(p.midBot, 5), SLIT, 1)];
    const spikes = zig(p.top, p.bot, 0);
    const chart = new Chart(ref.current as any, {
      type: "line",
      data: {
        datasets: [
          ...coreDs,
          ...midDs,
          line(spikes, p.dark[1], p.dark[0]),
          line(spikes, p.light[1], p.light[0]),
          ...back,
        ],
      } as any,
      plugins: [panelPlugin],
      options: {
        animation: false,
        responsive: false,
        devicePixelRatio: 1,
        parsing: false,
        layout: {
          autoPadding: false,
          padding: { left: 0, top: pt - cy, right: cx + cw - pr, bottom: 0 },
        },
        plugins: {
          legend: { display: false },
          tooltip: { enabled: false },
          filler: { drawTime: "beforeDatasetDraw" },
          panelPlugin: { ...p, cx, cy },
        },
        scales: {
          x: {
            type: "linear", min: 0, max: 4,
            afterBuildTicks: (s: any) => { s.ticks = timeTicks.map((value) => ({ value })); },
            afterFit: (s: any) => { s.height = cy + ch - pb; s.paddingLeft = 0; s.paddingRight = 0; },
            border: { display: false },
            grid: { color: p.gridC, lineWidth: p.gridW, drawTicks: false },
            ticks: {
              padding: p.padX, maxRotation: 0, autoSkip: false, color: "#3c3c3c",
              font: { family: "Liberation Sans", size: p.font },
              callback: (v: any) => String(+(+v).toFixed(1)),
            },
          },
          y: {
            type: "linear", min: p.yMin, max: p.yMax,
            afterFit: (s: any) => { s.width = pl - cx; s.paddingTop = 0; s.paddingBottom = 0; },
            border: { display: false },
            grid: { color: p.gridC, lineWidth: p.gridW, drawTicks: false },
            ticks: {
              stepSize: p.yStep, padding: p.padY, autoSkip: false, color: "#3c3c3c", labelOffset: 3,
              font: { family: "Liberation Sans", size: p.font },
              callback: (v: any) => String(+(+v).toFixed(1)),
            },
          },
        },
      } as any,
    });
    return () => chart.destroy();
  }, [p]);
  const [cx, cy, cw, ch] = p.canvas;
  return (
    <>
      <canvas ref={ref} width={cw} height={ch} style={{ position: "absolute", left: cx, top: cy, width: cw, height: ch }} />
      <div
        style={{
          position: "absolute", left: p.cap[0] - 100, top: p.cap[1] - 50, width: 200, height: 100, lineHeight: "100px",
          textAlign: "center", fontFamily: "Liberation Serif", fontSize: 84, color: "#000",
        }}
      >
        (<b>{p.caption}</b>)
      </div>
    </>
  );
}

export default function App() {
  return (
    <div style={{ position: "absolute", left: 0, top: 0, width: 3788, height: 2572, background: "#fff", overflow: "hidden" }}>
      {PANELS.map((p) => (
        <Panel key={p.key} p={p} />
      ))}
    </div>
  );
}
